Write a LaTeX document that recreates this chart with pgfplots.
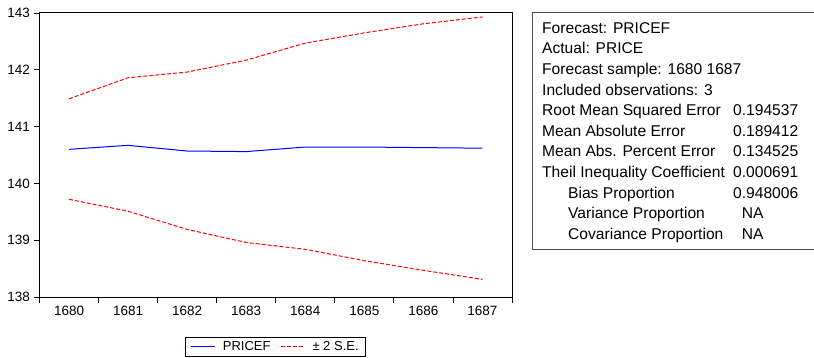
\documentclass[border=0pt]{standalone}
\usepackage{pgfplots}
\pgfplotsset{compat=1.18}
\usepackage{fontspec}
\setmainfont{Liberation Sans}
\begin{document}
\begin{tikzpicture}[x=1bp,y=1bp]
\path[use as bounding box] (0,0) rectangle (814,357);
\begin{axis}[
 at={(39.5bp,60bp)}, anchor=south west,
 scale only axis, width=472.5bp, height=284bp,
 xmin=1679.5, xmax=1687.5, ymin=138, ymax=143,
 xtick={1680,...,1687}, ytick={138,...,143},
 minor xtick={1679.5,1680.5,...,1687.5},
 major x tick style={draw=none},
 tick align=outside, tick pos=left,
 major tick length=6bp, minor tick length=6bp,
 tick style={black, line width=0.8bp},
 minor tick style={black, line width=0.8bp},
 axis line style={line width=1bp},
 /pgf/number format/assume math mode=true,
 /pgf/number format/1000 sep={},
 tick label style={font=\fontsize{13.5bp}{14bp}\selectfont},
 legend style={at={(0.5,-0.14)}, anchor=north, legend columns=2,
   font=\fontsize{13bp}{14bp}\selectfont, draw=black, line width=0.8bp,
   inner xsep=5bp, inner ysep=2.5bp,
   /tikz/every odd column/.append style={column sep=5bp},
   /tikz/every even column/.append style={column sep=8bp}},
 legend image code/.code={\draw[#1] plot coordinates {(0bp,0bp) (24bp,0bp)};},
]
\addplot[blue, line width=1bp] coordinates {
(1680,140.60) (1681,140.67) (1682,140.57) (1683,140.56) (1684,140.64) (1685,140.64) (1686,140.63) (1687,140.62)};
\addlegendentry{PRICEF}
\addplot[red, line width=1bp, dash pattern=on 4bp off 2bp] coordinates {
(1680,141.49) (1681,141.86) (1682,141.96) (1683,142.17) (1684,142.47) (1685,142.65) (1686,142.81) (1687,142.93)};
\addlegendentry{± 2 S.E.}
\addplot[red, line width=1bp, dash pattern=on 4bp off 2bp, forget plot] coordinates {
(1680,139.72) (1681,139.51) (1682,139.19) (1683,138.96) (1684,138.84) (1685,138.64) (1686,138.47) (1687,138.31)};
\end{axis}
\draw[line width=0.8bp, black!70] (816,345) -- (532,345) -- (532,108) -- (816,108);
\begin{scope}[every node/.style={anchor=base west, inner sep=0pt, font=\fontsize{15.6bp}{16bp}\selectfont}]
\node at (542,{357-33.3}) {Forecast: PRICEF};
\node at (542,{357-33.3-20.6}) {Actual: PRICE};
\node at (542,{357-33.3-2*20.6}) {Forecast sample: 1680 1687};
\node at (542,{357-33.3-3*20.6}) {Included observations: 3};
\node at (542,{357-33.3-4*20.6}) {Root Mean Squared Error};
\node at (733,{357-33.3-4*20.6}) {0.194537};
\node at (542,{357-33.3-5*20.6}) {Mean Absolute Error};
\node at (733,{357-33.3-5*20.6}) {0.189412};
\node at (542,{357-33.3-6*20.6}) {Mean Abs. Percent Error};
\node at (733,{357-33.3-6*20.6}) {0.134525};
\node at (542,{357-33.3-7*20.6}) {Theil Inequality Coefficient};
\node at (733,{357-33.3-7*20.6}) {0.000691};
\node at (568,{357-33.3-8*20.6}) {Bias Proportion};
\node at (733,{357-33.3-8*20.6}) {0.948006};
\node at (568,{357-33.3-9*20.6}) {Variance Proportion};
\node at (741.7,{357-33.3-9*20.6}) {NA};
\node at (568,{357-33.3-10*20.6}) {Covariance Proportion};
\node at (741.7,{357-33.3-10*20.6}) {NA};
\end{scope}
\end{tikzpicture}
\end{document}
